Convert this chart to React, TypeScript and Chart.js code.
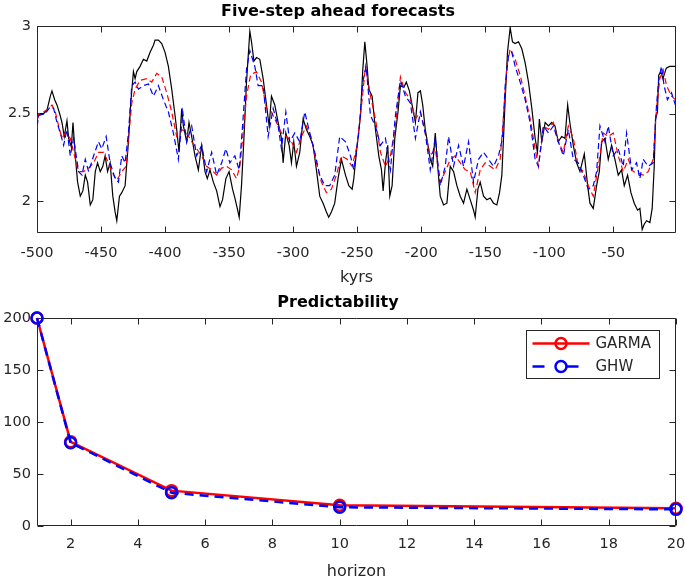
import React, { useEffect, useRef } from "react";
import { Chart, registerables } from "chart.js";
Chart.register(...registerables);

const FONT = "'DejaVu Sans', sans-serif";
const AXIS_COLOR = "#262626";

// ---------- Top panel data ----------
const topTitle = "Five-step ahead forecasts";
const topXLabel = "kyrs";
const topXTicks = [-500, -450, -400, -350, -300, -250, -200, -150, -100, -50];
const topYTicks = [2, 2.5, 3];

// observed series [kyr, value]
const observed: [number, number][] = [
  [-500,2.50],[-494.8,2.50],[-492.2,2.52],[-489.6,2.60],[-488.3,2.63],[-486.2,2.58],[-484.4,2.55],[-482.3,2.50],[-480.5,2.45],[-478.7,2.37],
  [-476.6,2.46],[-475.3,2.36],[-473.2,2.31],[-471.9,2.45],[-470.1,2.26],[-468.3,2.11],[-466.2,2.03],[-464.2,2.06],[-462.3,2.15],[-460.5,2.11],
  [-458.4,1.98],[-456.4,2.01],[-454.5,2.17],[-452.7,2.22],[-450.6,2.17],[-448.6,2.20],[-446.8,2.26],[-444.9,2.17],[-442.9,2.22],[-440.8,2.03],
  [-439,1.94],[-437.7,1.89],[-435.6,2.03],[-433.8,2.05],[-431.2,2.09],[-428.6,2.34],[-426.8,2.56],[-424.7,2.74],[-423.4,2.70],[-422.1,2.74],
  [-419.5,2.77],[-416.9,2.81],[-414.3,2.80],[-411.7,2.85],[-409.1,2.89],[-407.8,2.92],[-405.2,2.92],[-402.6,2.90],[-400,2.85],[-397.4,2.77],
  [-394.8,2.64],[-392.2,2.49],[-390.9,2.41],[-389.1,2.28],[-387,2.53],[-385.7,2.43],[-383.1,2.34],[-381.3,2.45],[-379.2,2.37],[-376.6,2.26],
  [-374,2.18],[-371.4,2.32],[-368.8,2.17],[-367,2.13],[-364.9,2.18],[-362.3,2.11],[-359.7,2.06],[-357.1,1.97],[-355.1,2.01],[-352.5,2.13],
  [-350,2.17],[-347.3,2.07],[-345.5,2.02],[-343.6,1.96],[-342.1,1.91],[-340.3,2.09],[-338.4,2.36],[-336.4,2.68],[-334.5,2.89],[-333.8,2.97],
  [-332.5,2.91],[-330.6,2.80],[-328.6,2.82],[-326,2.81],[-323.4,2.70],[-320.8,2.55],[-318.7,2.43],[-316.9,2.60],[-314.3,2.55],[-311.7,2.45],
  [-309.1,2.36],[-307.8,2.22],[-305.7,2.39],[-303.1,2.32],[-301.3,2.22],[-299.5,2.34],[-297.4,2.20],[-294.8,2.28],[-292.2,2.47],[-289.6,2.41],
  [-287,2.37],[-284.4,2.32],[-281.8,2.18],[-279.2,2.03],[-276.6,1.99],[-274,1.94],[-272.2,1.91],[-270.1,1.94],[-267.5,1.99],[-264.9,2.13],
  [-262.3,2.24],[-259.1,2.15],[-256.5,2.09],[-253.9,2.07],[-252.6,2.13],[-250,2.32],[-247.4,2.49],[-245.6,2.75],[-244,2.91],[-242.2,2.77],
  [-240.9,2.64],[-238.3,2.60],[-235.7,2.41],[-233.1,2.26],[-231,2.18],[-229.7,2.06],[-227.9,2.22],[-226.1,2.32],[-224.5,2.03],[-222.7,2.09],
  [-220.6,2.36],[-218.1,2.51],[-216.2,2.66],[-213.6,2.65],[-211.6,2.68],[-209.2,2.63],[-207.1,2.55],[-204.5,2.45],[-202.5,2.62],[-200.6,2.63],
  [-198.8,2.55],[-196.8,2.41],[-194.7,2.32],[-192.9,2.24],[-191,2.20],[-189,2.39],[-187.1,2.20],[-185.1,2.03],[-182.5,1.98],[-179.9,1.99],
  [-177.3,2.20],[-174.7,2.17],[-172.1,2.09],[-169.5,2.03],[-166.9,1.99],[-164.3,2.07],[-161.7,2.01],[-159.1,1.95],[-157.8,1.91],[-155.7,2.07],
  [-153.9,2.11],[-151.3,2.03],[-148.7,2.01],[-146.1,2.02],[-143.5,1.99],[-140.9,1.98],[-138.8,2.05],[-137,2.15],[-135.7,2.36],[-134.4,2.58],
  [-132.6,2.85],[-130.5,2.99],[-128.7,2.91],[-126.6,2.90],[-124,2.91],[-121.4,2.87],[-118.8,2.79],[-116.2,2.68],[-113.6,2.53],[-111,2.36],
  [-109.2,2.28],[-107.7,2.47],[-105.8,2.34],[-103.2,2.45],[-100.6,2.43],[-98.1,2.45],[-95.5,2.43],[-92.9,2.34],[-90.3,2.37],[-87.7,2.36],
  [-85.6,2.55],[-83.9,2.45],[-81.2,2.32],[-78.6,2.22],[-76,2.17],[-72.6,2.27],[-70,2.09],[-68.2,1.99],[-65.6,1.96],[-63,2.09],
  [-60.9,2.17],[-59.1,2.34],[-56.5,2.36],[-53.9,2.24],[-51.3,2.32],[-48.7,2.24],[-46.1,2.15],[-43.5,2.18],[-41.4,2.09],[-38.8,2.15],
  [-36.2,2.05],[-33.6,1.99],[-31,1.95],[-29.2,1.96],[-27.4,1.84],[-25.8,1.87],[-24,1.89],[-21.4,1.88],[-19.6,1.96],[-18,2.20],
  [-17,2.47],[-15.5,2.51],[-14.5,2.72],[-12.9,2.74],[-11.2,2.70],[-8.6,2.76],[-6,2.77],[-3.4,2.77],[-1.5,2.77],
];

// GARMA five-step forecast [kyr, value]
const garmaForecast: [number, number][] = [
  [-500,2.42],[-498.7,2.50],[-494.8,2.51],[-490.9,2.53],[-488.3,2.55],[-485.7,2.51],[-483.1,2.43],[-480.5,2.36],[-477.9,2.39],[-474,2.36],
  [-471.4,2.28],[-467.5,2.17],[-463.6,2.17],[-459.7,2.19],[-455.8,2.22],[-452,2.28],[-448,2.28],[-445.5,2.24],[-441.6,2.17],[-437.7,2.12],
  [-433.8,2.17],[-430.4,2.20],[-428.6,2.36],[-426,2.56],[-423.4,2.64],[-419.5,2.69],[-414.3,2.70],[-410.4,2.68],[-406.5,2.73],[-402.6,2.71],
  [-398.7,2.62],[-394.8,2.51],[-390.9,2.37],[-387,2.41],[-383.1,2.39],[-379.2,2.34],[-375.3,2.30],[-371.4,2.26],[-367.5,2.20],[-363.6,2.18],
  [-359.7,2.15],[-355.8,2.19],[-351.9,2.20],[-348,2.18],[-344.2,2.13],[-341.6,2.20],[-339,2.39],[-336.4,2.60],[-333.2,2.72],[-328.6,2.74],
  [-324.7,2.68],[-320.8,2.53],[-316.9,2.51],[-313,2.45],[-309.1,2.39],[-305.2,2.37],[-301.3,2.34],[-297.4,2.28],[-293.5,2.37],[-289.6,2.43],
  [-285.7,2.36],[-281.8,2.22],[-277.9,2.11],[-274,2.05],[-270.1,2.07],[-266.2,2.15],[-262.3,2.26],[-257.8,2.24],[-253.9,2.20],[-250,2.32],
  [-246.1,2.58],[-243.5,2.77],[-239.6,2.60],[-235.7,2.47],[-231.8,2.28],[-227.9,2.20],[-224,2.26],[-220.1,2.43],[-216.2,2.71],[-212.3,2.62],
  [-208.4,2.58],[-204.5,2.47],[-200.6,2.51],[-196.8,2.39],[-192.9,2.26],[-189,2.30],[-185.1,2.11],[-181.2,2.17],[-177.3,2.24],[-173.4,2.26],
  [-169.5,2.22],[-165.6,2.18],[-161.7,2.17],[-157.8,2.05],[-153.9,2.18],[-150,2.22],[-146.1,2.20],[-142.2,2.18],[-138.3,2.24],[-135.7,2.49],
  [-133.1,2.77],[-130.5,2.87],[-126.6,2.81],[-122.7,2.72],[-118.8,2.60],[-114.9,2.47],[-111,2.30],[-108.4,2.20],[-104.5,2.43],[-100.6,2.41],
  [-96.8,2.45],[-92.9,2.34],[-89,2.28],[-85.1,2.43],[-81.2,2.36],[-77.3,2.20],[-73.4,2.17],[-69.5,2.09],[-65.6,2.03],[-61.7,2.20],
  [-57.8,2.39],[-53.9,2.37],[-50,2.39],[-46.1,2.26],[-42.2,2.17],[-38.3,2.24],[-34.4,2.17],[-30.5,2.16],[-26.6,2.15],[-22.7,2.17],
  [-18.8,2.24],[-16.2,2.53],[-13.6,2.70],[-11,2.75],[-8.4,2.66],[-4.5,2.60],[-1.5,2.58],
];

// GHW five-step forecast [kyr, value]
const ghwForecast: [number, number][] = [
  [-500,2.43],[-498.7,2.49],[-493.5,2.50],[-489.6,2.54],[-487,2.53],[-484.4,2.45],[-481.8,2.39],[-479.2,2.32],[-476.6,2.41],[-474,2.26],
  [-471.4,2.36],[-467.5,2.17],[-464.9,2.15],[-462.3,2.24],[-459.7,2.17],[-455.8,2.26],[-452,2.34],[-449.4,2.30],[-446,2.37],[-442.9,2.22],
  [-439,2.13],[-436.4,2.11],[-433.8,2.26],[-431.2,2.22],[-428.6,2.39],[-426,2.66],[-423.4,2.68],[-420.8,2.64],[-416.9,2.66],[-413,2.67],
  [-409.1,2.60],[-405.2,2.66],[-401.3,2.58],[-397.4,2.51],[-393.5,2.39],[-389.6,2.24],[-386.2,2.51],[-383.1,2.34],[-379.2,2.43],[-375.3,2.26],
  [-371.4,2.32],[-367.5,2.17],[-363.6,2.28],[-359.7,2.15],[-355.8,2.22],[-352.5,2.30],[-349.4,2.22],[-345.5,2.26],[-342.1,2.18],[-339.5,2.43],
  [-336.4,2.75],[-333.8,2.86],[-329.9,2.77],[-327.3,2.66],[-323.4,2.66],[-319.5,2.37],[-315.6,2.53],[-311.7,2.43],[-309.1,2.30],[-305.7,2.51],
  [-302.6,2.34],[-298.7,2.39],[-294.8,2.34],[-290.9,2.51],[-287,2.39],[-283.1,2.28],[-279.2,2.15],[-275.3,2.09],[-271.4,2.09],[-267.5,2.15],
  [-263.6,2.37],[-259.1,2.34],[-255.2,2.26],[-252.6,2.18],[-248.7,2.39],[-245.6,2.68],[-243,2.77],[-239.6,2.49],[-235.7,2.43],[-231.8,2.32],
  [-227.9,2.36],[-224,2.18],[-220.1,2.49],[-216.2,2.69],[-212.3,2.60],[-208.4,2.56],[-204.5,2.36],[-200.6,2.51],[-196.8,2.39],[-192.9,2.18],
  [-189,2.36],[-185.1,2.09],[-181.2,2.20],[-178.6,2.37],[-174.7,2.20],[-170.8,2.32],[-166.9,2.20],[-163,2.34],[-159.1,2.11],[-155.2,2.24],
  [-151.3,2.28],[-147.4,2.24],[-143.5,2.20],[-139.6,2.26],[-136.5,2.36],[-134.4,2.66],[-131.8,2.83],[-129.2,2.85],[-126.6,2.77],[-122.7,2.68],
  [-118.8,2.58],[-114.9,2.45],[-111,2.24],[-108.4,2.20],[-104.5,2.43],[-100.6,2.39],[-96.8,2.43],[-92.9,2.34],[-89,2.26],[-85.1,2.41],
  [-81.2,2.24],[-77.3,2.22],[-73.4,2.15],[-69.5,2.07],[-65.6,2.09],[-63,2.17],[-60.4,2.43],[-56.5,2.34],[-53.9,2.43],[-50,2.26],
  [-46.1,2.30],[-42.2,2.20],[-39.6,2.39],[-35.7,2.18],[-31.8,2.22],[-29.2,2.13],[-26.6,2.24],[-22.7,2.20],[-18.8,2.22],[-16.2,2.55],
  [-14.4,2.70],[-12.3,2.77],[-10.3,2.66],[-7.7,2.58],[-4.5,2.62],[-1.5,2.55],
];

// ---------- Bottom panel data ----------
const bottomTitle = "Predictability";
const bottomXLabel = "horizon";
const horizons = [1, 2, 5, 10, 20];
const garmaPred = [200, 81, 34, 20, 17];
const ghwPred = [200, 80, 32, 18, 16];
const bottomXTicks = [2, 4, 6, 8, 10, 12, 14, 16, 18, 20];
const bottomYTicks = [0, 50, 100, 150, 200];

// ---------- plugins ----------
const boxTicksPlugin = {
  id: "boxTicks",
  beforeDatasetsDraw(chart: any) {
    const { ctx, chartArea: a, scales } = chart;
    const L = Math.round(a.left) + 0.5;
    const R = Math.round(a.right) - 0.5;
    const T = Math.round(a.top) + 0.5;
    const B = Math.round(a.bottom) - 0.5;
    const len = 6;
    ctx.save();
    ctx.strokeStyle = AXIS_COLOR;
    ctx.lineWidth = 1;
    ctx.beginPath();
    ctx.rect(L, T, R - L, B - T);
    for (const t of scales.x.ticks) {
      const px = Math.round(scales.x.getPixelForValue(t.value)) + 0.5;
      ctx.moveTo(px, B); ctx.lineTo(px, B - len);
      ctx.moveTo(px, T); ctx.lineTo(px, T + len);
    }
    for (const t of scales.y.ticks) {
      const py = Math.round(scales.y.getPixelForValue(t.value)) + 0.5;
      ctx.moveTo(L, py); ctx.lineTo(L + len, py);
      ctx.moveTo(R, py); ctx.lineTo(R - len, py);
    }
    ctx.stroke();
    ctx.restore();
  },
};

const boxLegendPlugin = {
  id: "boxLegend",
  afterDraw(chart: any) {
    const { ctx, chartArea: a } = chart;
    const w = 133, h = 48;
    const left = Math.round(a.right - 17 - w) + 0.5;
    const top = Math.round(a.top + 12) + 0.5;
    ctx.save();
    ctx.fillStyle = "#ffffff";
    ctx.strokeStyle = AXIS_COLOR;
    ctx.lineWidth = 1;
    ctx.fillRect(left, top, w, h);
    ctx.strokeRect(left, top, w, h);
    const rows = [13, 36];
    chart.data.datasets.forEach((ds: any, i: number) => {
      const y = top + rows[i];
      ctx.strokeStyle = ds.borderColor;
      ctx.lineWidth = ds.borderWidth;
      ctx.setLineDash(ds.borderDash && ds.borderDash.length ? [12, 22] : []);
      ctx.beginPath();
      ctx.moveTo(left + 6, y);
      ctx.lineTo(left + 63, y);
      ctx.stroke();
      ctx.setLineDash([]);
      ctx.lineWidth = ds.pointBorderWidth;
      ctx.beginPath();
      ctx.arc(left + 34.5, y, ds.pointRadius, 0, Math.PI * 2);
      ctx.stroke();
      ctx.fillStyle = AXIS_COLOR;
      ctx.font = `15px ${FONT}`;
      ctx.textBaseline = "middle";
      ctx.textAlign = "left";
      ctx.fillText(ds.label, left + 69, y + 0.5);
    });
    ctx.restore();
  },
};

const tickFont = { family: FONT, size: 14.5 };
const noGrid = { display: false, drawTicks: false, tickLength: 0 };
const fitX = (h: number) => (s: any) => { s.height = h; s.paddingLeft = 0; s.paddingRight = 0; };
const fitY = (s: any) => { s.width = 37; s.paddingTop = 0; s.paddingBottom = 0; };

function TopChart() {
  const ref = useRef<HTMLCanvasElement>(null);
  useEffect(() => {
    const chart = new Chart(ref.current!, {
      type: "line",
      data: {
        datasets: [
          {
            label: "observed",
            data: observed.map(([x, y]) => ({ x, y })),
            borderColor: "#000000",
            borderWidth: 1.2,
            pointRadius: 0,
            order: 2,
          },
          {
            label: "GARMA",
            data: garmaForecast.map(([x, y]) => ({ x, y })),
            borderColor: "#ff0000",
            borderWidth: 1.2,
            borderDash: [6, 3.5],
            pointRadius: 0,
            order: 1,
          },
          {
            label: "GHW",
            data: ghwForecast.map(([x, y]) => ({ x, y })),
            borderColor: "#0000ff",
            borderWidth: 1.2,
            borderDash: [6, 3.5],
            pointRadius: 0,
            order: 0,
          },
        ],
      },
      options: {
        responsive: false,
        animation: false,
        layout: { padding: { left: 0, right: 9, top: 0, bottom: 0 } },
        plugins: {
          legend: { display: false },
          tooltip: { enabled: false },
          title: {
            display: true,
            text: topTitle,
            color: "#000000",
            font: { family: FONT, size: 16, weight: "bold", lineHeight: 1.2 },
            padding: { top: 2, bottom: 4.8 },
          },
        },
        scales: {
          x: {
            type: "linear",
            min: -500,
            max: -1,
            grid: noGrid,
            border: { display: false },
            afterBuildTicks: (s: any) => { s.ticks = topXTicks.map((v) => ({ value: v })); },
            afterFit: fitX(57),
            ticks: { font: tickFont, color: AXIS_COLOR, padding: 12, maxRotation: 0, autoSkip: false, callback: (v: any) => String(v) },
            title: { display: true, text: topXLabel, color: AXIS_COLOR, font: { family: FONT, size: 16 }, padding: { top: 0, bottom: 2.4 } },
          },
          y: {
            type: "linear",
            min: 1.82,
            max: 3,
            grid: noGrid,
            border: { display: false },
            afterBuildTicks: (s: any) => { s.ticks = topYTicks.map((v) => ({ value: v })); },
            afterFit: fitY,
            ticks: { font: tickFont, color: AXIS_COLOR, padding: 6, callback: (v: any) => String(v) },
          },
        },
      },
      plugins: [boxTicksPlugin],
    } as any);
    return () => chart.destroy();
  }, []);
  return <canvas ref={ref} width={685} height={290} style={{ display: "block", width: 685, height: 290 }} />;
}

function BottomChart() {
  const ref = useRef<HTMLCanvasElement>(null);
  useEffect(() => {
    const chart = new Chart(ref.current!, {
      type: "line",
      data: {
        datasets: [
          {
            label: "GARMA",
            data: horizons.map((x, i) => ({ x, y: garmaPred[i] })),
            borderColor: "#ff0000",
            borderWidth: 2.5,
            pointRadius: 5.5,
            pointBorderWidth: 2.5,
            pointBorderColor: "#ff0000",
            pointBackgroundColor: "rgba(0,0,0,0)",
            clip: false,
            order: 1,
          },
          {
            label: "GHW",
            data: horizons.map((x, i) => ({ x, y: ghwPred[i] })),
            borderColor: "#0000ff",
            borderWidth: 2.5,
            borderDash: [9, 6],
            pointRadius: 5.5,
            pointBorderWidth: 2.5,
            pointBorderColor: "#0000ff",
            pointBackgroundColor: "rgba(0,0,0,0)",
            clip: false,
            order: 0,
          },
        ],
      },
      options: {
        responsive: false,
        animation: false,
        layout: { padding: { left: 0, right: 9, top: 0, bottom: 0 } },
        plugins: {
          legend: { display: false },
          tooltip: { enabled: false },
          title: {
            display: true,
            text: bottomTitle,
            color: "#000000",
            font: { family: FONT, size: 16, weight: "bold", lineHeight: 1.2 },
            padding: { top: 3.7, bottom: 5.1 },
          },
        },
        scales: {
          x: {
            type: "linear",
            min: 1,
            max: 20,
            grid: noGrid,
            border: { display: false },
            afterBuildTicks: (s: any) => { s.ticks = bottomXTicks.map((v) => ({ value: v })); },
            afterFit: fitX(55),
            ticks: { font: tickFont, color: AXIS_COLOR, padding: 10, maxRotation: 0, autoSkip: false, callback: (v: any) => String(v) },
            title: { display: true, text: bottomXLabel, color: AXIS_COLOR, font: { family: FONT, size: 16 }, padding: { top: 0, bottom: 0 } },
          },
          y: {
            type: "linear",
            min: 0,
            max: 200,
            grid: noGrid,
            border: { display: false },
            afterBuildTicks: (s: any) => { s.ticks = bottomYTicks.map((v) => ({ value: v })); },
            afterFit: fitY,
            ticks: { font: tickFont, color: AXIS_COLOR, padding: 6, callback: (v: any) => String(v) },
          },
        },
      },
      plugins: [boxTicksPlugin, boxLegendPlugin],
    } as any);
    return () => chart.destroy();
  }, []);
  return <canvas ref={ref} width={685} height={291} style={{ display: "block", width: 685, height: 291 }} />;
}

export default function App() {
  return (
    <div style={{ position: "absolute", left: 0, top: 0, width: 685, height: 581, background: "#ffffff" }}>
      <TopChart />
      <BottomChart />
    </div>
  );
}
